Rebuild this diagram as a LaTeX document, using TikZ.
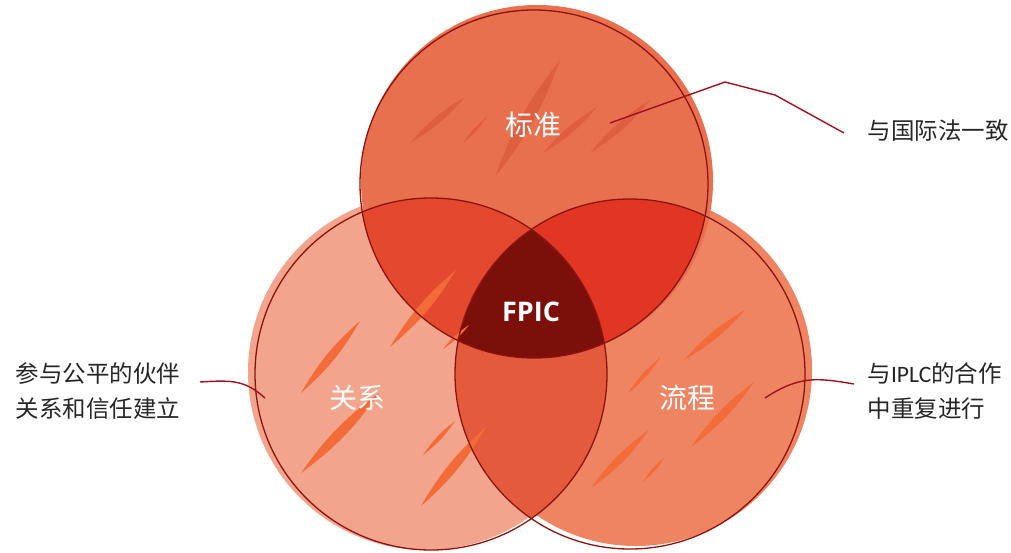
\documentclass[tikz,border=0pt]{standalone}
\usepackage{fontspec}
\setmainfont{Carlito}
\newfontfamily\cjk{Noto Sans CJK SC}
\newfontfamily\fpicfont{Open Sans}
\usetikzlibrary{positioning}
\definecolor{topfill}{HTML}{E8704E}
\definecolor{leftfill}{HTML}{F3A48C}
\definecolor{rightfill}{HTML}{EF8462}
\definecolor{tlfill}{HTML}{E4482E}
\definecolor{trfill}{HTML}{E13624}
\definecolor{lrfill}{HTML}{E45A3D}
\definecolor{corefill}{HTML}{7B0F0A}
\definecolor{rim}{HTML}{8C1410}
\definecolor{lead}{HTML}{A01020}
\definecolor{scratch}{HTML}{F26B38}
\definecolor{scratchtop}{HTML}{DD5E40}
\newcommand{\streak}[3]{\fill[#1] #2 to[bend left=9] #3 to[bend left=9] #2;}

\begin{document}
\begin{tikzpicture}[x=1pt,y=-1pt,
   rimline/.style={draw=rim,line width=1.3pt},
   leader/.style={draw=lead,line width=1.4pt},
   inlabel/.style={text=white,font=\cjk\fontsize{28}{30}\selectfont},
   sidelabel/.style={align=left,text=black!85,font=\cjk\fontsize{23.5}{35}\selectfont}]
   \useasboundingbox (0,0) rectangle (1011,552);
   \coordinate (top) at (534,184);
   \coordinate (left) at (431,374);
   \coordinate (right) at (630,374);

   % discs
   \fill[leftfill] (426,372) circle[radius=178pt];
   \fill[rightfill] (636,370) circle[radius=176pt];
   \fill[topfill] (537,181) circle[radius=176pt];
   \begin{scope}
    \clip (left) circle[radius=176pt];
    \fill[lrfill] (right) circle[radius=175pt];
   \end{scope}
   \begin{scope}
    \clip (top) circle[radius=174pt];
    \fill[tlfill] (left) circle[radius=176pt];
    \fill[trfill] (right) circle[radius=175pt];
    \clip (left) circle[radius=176pt];
    \fill[corefill] (right) circle[radius=175pt];
   \end{scope}

   % scratches
   \streak{scratchtop}{(410,143)}{(465,97)}
   \streak{scratchtop}{(463,143)}{(487,117)}
   \streak{scratchtop}{(495,177)}{(560,60)}
   \streak{scratchtop}{(543,153)}{(597,107)}
   \streak{scratchtop}{(590,153)}{(650,100)}
   \streak{scratch}{(301,393)}{(360,321)}
   \streak{scratch}{(301,473)}{(379,393)}
   \streak{scratch}{(390,347)}{(456,270)}
   \streak{scratch}{(423,455)}{(455,421)}
   \streak{scratch}{(421,506)}{(486,427)}
   \streak{scratch}{(443,349)}{(469,325)}
   \streak{scratch}{(684,360)}{(745,310)}
   \streak{scratch}{(628,393)}{(660,358)}
   \streak{scratch}{(691,447)}{(754,382)}
   \streak{scratch}{(591,488)}{(649,430)}
   \streak{scratch}{(643,482)}{(664,458)}

   % outlines
   \draw[rimline] (top) circle[radius=174pt];
   \draw[rimline] (left) circle[radius=176pt];
   \draw[rimline] (right) circle[radius=175pt];

   \node[inlabel] (std) at (533,125) {标准};
   \node[inlabel] (rel) at (357,398) {关系};
   \node[inlabel] (proc) at (687,398) {流程};
   \node[text=white,font=\fpicfont\bfseries\fontsize{27}{27}\selectfont] (fpic) at (531,312) {FPIC};

   \node[sidelabel,anchor=west] (law) at (864,131) {与国际法一致};
   \node[sidelabel,anchor=east] (partner) at (184,391) {参与公平的伙伴\\关系和信任建立};
   \node[sidelabel,anchor=west] (iplc) at (864,391) {与{\rmfamily IPLC}的合作\\中重复进行};

   \coordinate (lawend) at (610,123);
   \coordinate (partnerend) at (265,398);
   \coordinate (iplcend) at (765,398);
   \draw[leader] (lawend) -- (725,82) -- (775,95) -- ([xshift=-20pt,yshift=-2pt]law.west);
   \draw[leader] (partnerend) .. controls (245,380) and (232,380) .. ([xshift=16pt,yshift=9pt]partner.east);
   \draw[leader] (iplcend) .. controls (800,375) and (818,378) .. ([xshift=-10pt,yshift=7pt]iplc.west);
\end{tikzpicture}
\end{document}
